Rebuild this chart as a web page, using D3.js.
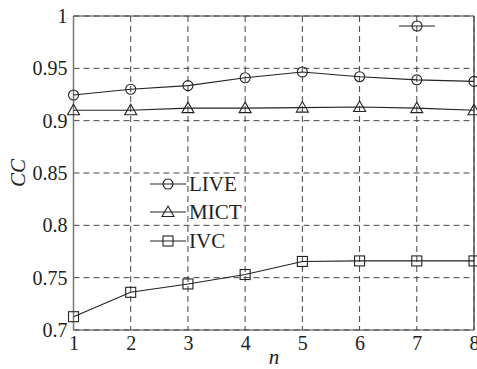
<!DOCTYPE html>
<html><head><meta charset="utf-8">
<script src="https://cdn.jsdelivr.net/npm/d3@7"></script>
<style>body{margin:0;background:#fff}svg{display:block}</style>
</head><body><svg id="c" width="477" height="369"></svg>
<script>
const nValues = [1,2,3,4,5,6,7,8];
const liveCC = [0.9245,0.930,0.9335,0.941,0.9465,0.942,0.939,0.9375];
const mictCC = [0.910,0.910,0.912,0.912,0.9125,0.913,0.912,0.910];
const ivcCC  = [0.7127,0.736,0.744,0.753,0.7655,0.766,0.766,0.766];
const yTicks = [0.7,0.75,0.8,0.85,0.9,0.95,1];
const yTickLabels = ["0.7","0.75","0.8","0.85","0.9","0.95","1"];
const seriesNames = ["LIVE","MICT","IVC"];
const series = [
  {name:seriesNames[0], values:liveCC, shape:"circle"},
  {name:seriesNames[1], values:mictCC, shape:"triangle"},
  {name:seriesNames[2], values:ivcCC, shape:"square"}
];
const FONT = "Liberation Serif";
const svg = d3.select("#c");
const L=73.5,R=474,T=16,B=330;
const x = d3.scaleLinear().domain([1,8]).range([L,R]);
const y = d3.scaleLinear().domain([0.7,1]).range([B,T]);
const g = svg.append("g");
g.selectAll(".gx").data(nValues).enter().append("line")
  .attr("x1",d=>x(d)).attr("x2",d=>x(d)).attr("y1",T).attr("y2",B)
  .attr("stroke","#444").attr("stroke-width",1).attr("stroke-dasharray","6,4");
g.selectAll(".gy").data(yTicks).enter().append("line")
  .attr("x1",L).attr("x2",R).attr("y1",d=>y(d)).attr("y2",d=>y(d))
  .attr("stroke","#444").attr("stroke-width",1).attr("stroke-dasharray","6,4");
g.append("line").attr("x1",L).attr("x2",L).attr("y1",T).attr("y2",B).attr("stroke","#777").attr("stroke-width",1.5);
g.append("line").attr("x1",R).attr("x2",R).attr("y1",T).attr("y2",B).attr("stroke","#555").attr("stroke-width",1.5);
g.append("line").attr("x1",L).attr("x2",R).attr("y1",T).attr("y2",T).attr("stroke","#444").attr("stroke-width",1.2);
g.append("line").attr("x1",L).attr("x2",R).attr("y1",B).attr("y2",B).attr("stroke","#444").attr("stroke-width",1.2);
const ax = d3.axisBottom(x).tickValues(nValues).tickSize(0).tickPadding(6).tickFormat(d3.format("d"));
const xa = svg.append("g").attr("transform",`translate(0,${B})`).call(ax)
  .attr("font-family",FONT).attr("font-size",20);
xa.select(".domain").remove();
xa.selectAll("text").attr("font-family",FONT).attr("font-size",20).attr("fill","#222");
const ay = d3.axisLeft(y).tickValues(yTicks).tickSize(0).tickPadding(6).tickFormat((d,i)=>yTickLabels[i]);
const ya = svg.append("g").attr("transform",`translate(${L},0)`).call(ay)
  .attr("font-family",FONT).attr("font-size",20);
ya.select(".domain").remove();
ya.selectAll("text").attr("font-family",FONT).attr("font-size",20).attr("fill","#222");
svg.append("text").attr("transform","translate(25,173) rotate(-90)").attr("text-anchor","middle")
  .attr("font-family",FONT).attr("font-size",21).attr("font-style","italic").attr("fill","#222").text("CC");
svg.append("text").attr("x",274).attr("y",364).attr("text-anchor","middle")
  .attr("font-family",FONT).attr("font-size",21).attr("font-style","italic").attr("fill","#222").text("n");
function marker(sel,shape,cx,cy){
  if(shape==="circle") sel.append("circle").attr("cx",cx).attr("cy",cy).attr("r",5).attr("fill","none").attr("stroke","#222").attr("stroke-width",1.1);
  else if(shape==="triangle") sel.append("path").attr("d",`M${cx},${cy-6}L${cx+6},${cy+4.5}L${cx-6},${cy+4.5}Z`).attr("fill","none").attr("stroke","#222").attr("stroke-width",1.1);
  else sel.append("rect").attr("x",cx-5).attr("y",cy-5).attr("width",10).attr("height",10).attr("fill","none").attr("stroke","#222").attr("stroke-width",1.1);
}
const line = d3.line().x((d,i)=>x(nValues[i])).y(d=>y(d));
series.forEach(s=>{
  svg.append("path").attr("d",line(s.values)).attr("fill","none").attr("stroke","#222").attr("stroke-width",1.1);
  s.values.forEach((v,i)=>marker(svg,s.shape,x(nValues[i]),y(v)));
});
const legY=[184,212,241];
series.forEach((s,i)=>{
  svg.append("rect").attr("x",150).attr("y",legY[i]-9).attr("width",36).attr("height",18).attr("fill","#fff");
  svg.append("line").attr("x1",150).attr("x2",186).attr("y1",legY[i]).attr("y2",legY[i]).attr("stroke","#222").attr("stroke-width",1.1);
  marker(svg,s.shape,168,legY[i]);
  svg.append("text").attr("x",189).attr("y",legY[i]+7).attr("font-family",FONT).attr("font-size",21).attr("fill","#222").text(s.name);
});
svg.append("line").attr("x1",399).attr("x2",435).attr("y1",26).attr("y2",26).attr("stroke","#222").attr("stroke-width",1.1);
marker(svg,"circle",417,26);
</script></body></html>
